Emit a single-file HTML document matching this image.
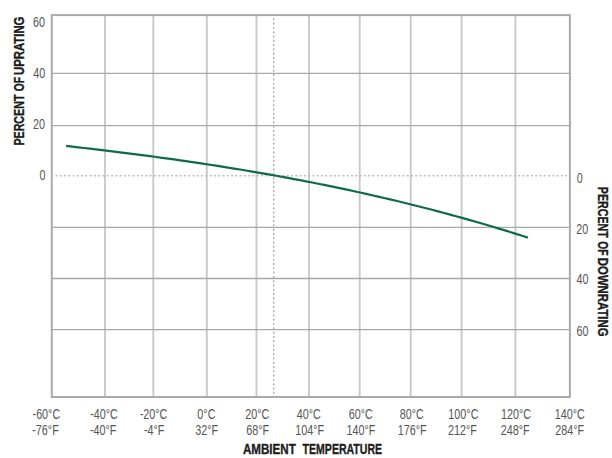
<!DOCTYPE html><html><head><meta charset="utf-8"><style>html,body{margin:0;padding:0;background:#fff;width:612px;height:458px;overflow:hidden}svg{display:block}text{font-family:"Liberation Sans",sans-serif}</style></head><body>
<svg width="612" height="458" viewBox="0 0 612 458">
<rect width="612" height="458" fill="#fff"/>
<line x1="105" y1="15" x2="105" y2="397" stroke="#c9c9c9" stroke-width="1.9"/>
<line x1="153.3" y1="15" x2="153.3" y2="397" stroke="#c9c9c9" stroke-width="1.9"/>
<line x1="206.8" y1="15" x2="206.8" y2="397" stroke="#c9c9c9" stroke-width="1.9"/>
<line x1="256.5" y1="15" x2="256.5" y2="397" stroke="#c9c9c9" stroke-width="1.9"/>
<line x1="309" y1="15" x2="309" y2="397" stroke="#c9c9c9" stroke-width="1.9"/>
<line x1="359.7" y1="15" x2="359.7" y2="397" stroke="#c9c9c9" stroke-width="1.9"/>
<line x1="410.7" y1="15" x2="410.7" y2="397" stroke="#c9c9c9" stroke-width="1.9"/>
<line x1="461.6" y1="15" x2="461.6" y2="397" stroke="#c9c9c9" stroke-width="1.9"/>
<line x1="515.4" y1="15" x2="515.4" y2="397" stroke="#c9c9c9" stroke-width="1.9"/>
<line x1="52" y1="73.4" x2="570" y2="73.4" stroke="#a9a9a9" stroke-width="1.3"/>
<line x1="52" y1="125.6" x2="570" y2="125.6" stroke="#a9a9a9" stroke-width="1.3"/>
<line x1="52" y1="227.4" x2="570" y2="227.4" stroke="#a9a9a9" stroke-width="1.3"/>
<line x1="52" y1="278.5" x2="570" y2="278.5" stroke="#a9a9a9" stroke-width="1.3"/>
<line x1="52" y1="329.6" x2="570" y2="329.6" stroke="#a9a9a9" stroke-width="1.3"/>
<line x1="55.4" y1="175.8" x2="569" y2="175.8" stroke="#bdbdbd" stroke-width="1.5" stroke-dasharray="2 2.284"/>
<line x1="273.7" y1="18.3" x2="273.7" y2="396" stroke="#acacac" stroke-width="1.4" stroke-dasharray="2 2.293"/>
<rect x="51.8" y="15.1" width="518.1" height="381.9" fill="none" stroke="#aaaaaa" stroke-width="2"/>
<path d="M66.1,145.96 L72.1,146.63 L78.1,147.31 L84.1,147.99 L90.1,148.69 L96.1,149.39 L102.1,150.11 L108.1,150.83 L114.1,151.56 L120.1,152.30 L126.1,153.05 L132.1,153.82 L138.1,154.59 L144.1,155.37 L150.1,156.17 L156.1,156.97 L162.1,157.79 L168.1,158.62 L174.1,159.46 L180.1,160.31 L186.1,161.17 L192.1,162.05 L198.1,162.94 L204.1,163.84 L210.1,164.75 L216.1,165.68 L222.1,166.63 L228.1,167.58 L234.1,168.55 L240.1,169.53 L246.1,170.53 L252.1,171.55 L258.1,172.57 L264.1,173.62 L270.1,174.67 L276.1,175.75 L282.1,176.84 L288.1,177.94 L294.1,179.06 L300.1,180.20 L306.1,181.35 L312.1,182.53 L318.1,183.71 L324.1,184.92 L330.1,186.14 L336.1,187.38 L342.1,188.64 L348.1,189.91 L354.1,191.21 L360.1,192.52 L366.1,193.85 L372.1,195.20 L378.1,196.57 L384.1,197.96 L390.1,199.37 L396.1,200.80 L402.1,202.25 L408.1,203.72 L414.1,205.21 L420.1,206.72 L426.1,208.25 L432.1,209.80 L438.1,211.37 L444.1,212.97 L450.1,214.58 L456.1,216.22 L462.1,217.88 L468.1,219.57 L474.1,221.27 L480.1,223.00 L486.1,224.75 L492.1,226.53 L498.1,228.33 L504.1,230.15 L510.1,232.00 L516.1,233.87 L522.1,235.76 L527.9,237.62" fill="none" stroke="#0e6b4a" stroke-width="2.2" stroke-linejoin="round"/>
<text transform="translate(45.06,27.2) scale(0.77,1)" text-anchor="end" font-size="14" font-weight="normal" fill="#555555">60</text>
<text transform="translate(45.22,78.38) scale(0.77,1)" text-anchor="end" font-size="14" font-weight="normal" fill="#555555">40</text>
<text transform="translate(45.06,128.84) scale(0.77,1)" text-anchor="end" font-size="14" font-weight="normal" fill="#555555">20</text>
<text transform="translate(45.62,179.92) scale(0.77,1)" text-anchor="end" font-size="14" font-weight="normal" fill="#555555">0</text>
<text transform="translate(576.72,182.82) scale(0.77,1)" text-anchor="start" font-size="14" font-weight="normal" fill="#555555">0</text>
<text transform="translate(576.32,233.82) scale(0.77,1)" text-anchor="start" font-size="14" font-weight="normal" fill="#555555">20</text>
<text transform="translate(576.48,284.3) scale(0.77,1)" text-anchor="start" font-size="14" font-weight="normal" fill="#555555">40</text>
<text transform="translate(576.48,335.82) scale(0.77,1)" text-anchor="start" font-size="14" font-weight="normal" fill="#555555">60</text>
<text transform="translate(46.37,419.24) scale(0.77,1)" text-anchor="middle" font-size="14" font-weight="normal" fill="#555555">-60°C</text>
<text transform="translate(45.48,434.8) scale(0.77,1)" text-anchor="middle" font-size="14" font-weight="normal" fill="#555555">-76°F</text>
<text transform="translate(104.0,419.24) scale(0.77,1)" text-anchor="middle" font-size="14" font-weight="normal" fill="#555555">-40°C</text>
<text transform="translate(103.22,434.8) scale(0.77,1)" text-anchor="middle" font-size="14" font-weight="normal" fill="#555555">-40°F</text>
<text transform="translate(153.5,419.24) scale(0.77,1)" text-anchor="middle" font-size="14" font-weight="normal" fill="#555555">-20°C</text>
<text transform="translate(154.13,434.8) scale(0.77,1)" text-anchor="middle" font-size="14" font-weight="normal" fill="#555555">-4°F</text>
<text transform="translate(206.39,419.24) scale(0.77,1)" text-anchor="middle" font-size="14" font-weight="normal" fill="#555555">0°C</text>
<text transform="translate(206.62,434.8) scale(0.77,1)" text-anchor="middle" font-size="14" font-weight="normal" fill="#555555">32°F</text>
<text transform="translate(257.24,419.24) scale(0.77,1)" text-anchor="middle" font-size="14" font-weight="normal" fill="#555555">20°C</text>
<text transform="translate(257.61,434.8) scale(0.77,1)" text-anchor="middle" font-size="14" font-weight="normal" fill="#555555">68°F</text>
<text transform="translate(308.75,419.24) scale(0.77,1)" text-anchor="middle" font-size="14" font-weight="normal" fill="#555555">40°C</text>
<text transform="translate(309.61,434.8) scale(0.77,1)" text-anchor="middle" font-size="14" font-weight="normal" fill="#555555">104°F</text>
<text transform="translate(360.86,419.24) scale(0.77,1)" text-anchor="middle" font-size="14" font-weight="normal" fill="#555555">60°C</text>
<text transform="translate(360.98,434.8) scale(0.77,1)" text-anchor="middle" font-size="14" font-weight="normal" fill="#555555">140°F</text>
<text transform="translate(411.76,419.24) scale(0.77,1)" text-anchor="middle" font-size="14" font-weight="normal" fill="#555555">80°C</text>
<text transform="translate(412.12,434.8) scale(0.77,1)" text-anchor="middle" font-size="14" font-weight="normal" fill="#555555">176°F</text>
<text transform="translate(463.39,419.24) scale(0.77,1)" text-anchor="middle" font-size="14" font-weight="normal" fill="#555555">100°C</text>
<text transform="translate(462.5,434.8) scale(0.77,1)" text-anchor="middle" font-size="14" font-weight="normal" fill="#555555">212°F</text>
<text transform="translate(516.02,419.24) scale(0.77,1)" text-anchor="middle" font-size="14" font-weight="normal" fill="#555555">120°C</text>
<text transform="translate(515.23,434.8) scale(0.77,1)" text-anchor="middle" font-size="14" font-weight="normal" fill="#555555">248°F</text>
<text transform="translate(569.85,419.24) scale(0.77,1)" text-anchor="middle" font-size="14" font-weight="normal" fill="#555555">140°C</text>
<text transform="translate(569.73,434.8) scale(0.77,1)" text-anchor="middle" font-size="14" font-weight="normal" fill="#555555">284°F</text>
<text transform="translate(242.94,453.82) scale(0.8125,1)" text-anchor="start" font-size="14.3" font-weight="bold" fill="#1c1c1c" stroke="#1c1c1c" stroke-width="0.35">AMBIENT</text>
<text transform="translate(302.62,453.82) scale(0.738,1)" text-anchor="start" font-size="14.3" font-weight="bold" fill="#1c1c1c" stroke="#1c1c1c" stroke-width="0.35">TEMPERATURE</text>
<text transform="translate(23.92,145.56) rotate(-90) scale(0.746,1)" text-anchor="start" font-size="14.3" font-weight="bold" fill="#1c1c1c" stroke="#1c1c1c" stroke-width="0.35">PERCENT</text>
<text transform="translate(23.92,91.32) rotate(-90) scale(0.717,1)" text-anchor="start" font-size="14.3" font-weight="bold" fill="#1c1c1c" stroke="#1c1c1c" stroke-width="0.35">OF</text>
<text transform="translate(23.92,75.06) rotate(-90) scale(0.796,1)" text-anchor="start" font-size="14.3" font-weight="bold" fill="#1c1c1c" stroke="#1c1c1c" stroke-width="0.35">UPRATING</text>
<text transform="translate(597.92,186.86) rotate(90) scale(0.746,1)" text-anchor="start" font-size="14.3" font-weight="bold" fill="#1c1c1c" stroke="#1c1c1c" stroke-width="0.35">PERCENT</text>
<text transform="translate(597.92,241.22) rotate(90) scale(0.717,1)" text-anchor="start" font-size="14.3" font-weight="bold" fill="#1c1c1c" stroke="#1c1c1c" stroke-width="0.35">OF</text>
<text transform="translate(597.92,257.84) rotate(90) scale(0.796,1)" text-anchor="start" font-size="14.3" font-weight="bold" fill="#1c1c1c" stroke="#1c1c1c" stroke-width="0.35">DOWNRATING</text>
</svg></body></html>
